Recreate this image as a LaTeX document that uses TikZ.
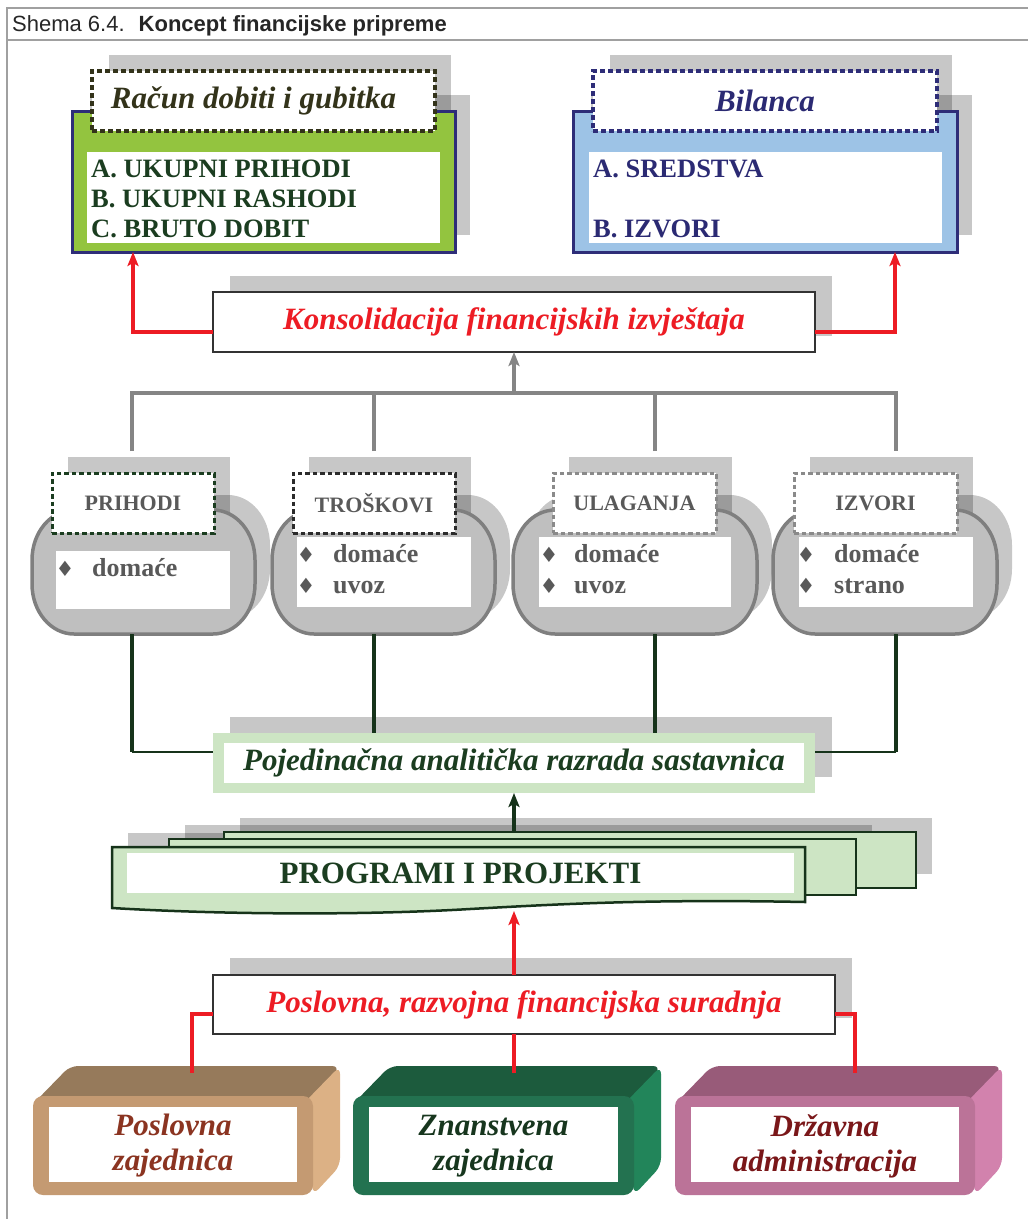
\documentclass[tikz,border=0pt]{standalone}
\usepackage{fontspec}
\setmainfont{Liberation Serif}
\newfontfamily\hdrfont{Liberation Sans}
\newfontfamily\symfont{DejaVu Sans}
\usetikzlibrary{arrows.meta,calc}
\definecolor{frameg}{HTML}{A0A0A0}
\definecolor{navyb}{HTML}{2E2D78}
\definecolor{navyt}{HTML}{2B2A73}
\definecolor{rdgfill}{HTML}{93C43F}
\definecolor{bilfill}{HTML}{9DC3E6}
\definecolor{olivet}{HTML}{33331A}
\definecolor{dgreent}{HTML}{1B3D20}
\definecolor{redc}{HTML}{ED1C24}
\definecolor{treeg}{HTML}{858585}
\definecolor{capfill}{HTML}{BFBFBF}
\definecolor{capdraw}{HTML}{7F7F7F}
\definecolor{grtxt}{HTML}{595959}
\definecolor{dglinec}{HTML}{16331A}
\definecolor{lgreen}{HTML}{CDE5C4}
\definecolor{darkgr}{HTML}{2B2B2B}
\definecolor{midgr}{HTML}{8A8A8A}
\definecolor{tanF}{HTML}{C49A72}\definecolor{tanT}{HTML}{967A5B}\definecolor{tanR}{HTML}{DCB185}\definecolor{tanX}{HTML}{8B3421}
\definecolor{grnF}{HTML}{237250}\definecolor{grnT}{HTML}{1C5B3D}\definecolor{grnR}{HTML}{22855A}\definecolor{grnX}{HTML}{17361E}
\definecolor{pnkF}{HTML}{BB7398}\definecolor{pnkT}{HTML}{985B79}\definecolor{pnkR}{HTML}{D282AD}\definecolor{pnkX}{HTML}{7A1719}
\newcommand\capsule[5]{\path[#5] ({#1+42},#3) -- ({#2-42},#3) .. controls ({#2-18.8},#3) and (#2,{#3+22.4}) .. (#2,{#3+50}) -- (#2,{#4-50}) .. controls (#2,{#4-22.4}) and ({#2-18.8},#4) .. ({#2-42},#4) -- ({#1+42},#4) .. controls ({#1+18.8},#4) and (#1,{#4-22.4}) .. (#1,{#4-50}) -- (#1,{#3+50}) .. controls (#1,{#3+22.4}) and ({#1+18.8},#3) .. ({#1+42},#3) -- cycle;}
\newcommand\tribox[9]{%
 \fill[#4, rounded corners=8pt] (#1,1104) -- ({#1+37},1066) -- ({#2+27},1066) -- (#2,1104) -- cycle;
 \fill[#5, rounded corners=8pt] ({#2-10},1104) -- ({#2+27},1066) -- ({#2+27},1166) -- (#2,1195) -- cycle;
 \node[plainbox, fill=#3, rounded corners=10pt, minimum width={#2-#1}, minimum height=99pt] (#6) at (#1,1096) {};
 \node[plainbox, fill=white, minimum width={#2-#1-32}, minimum height=75pt] (#6in) at ({#1+16},1107) {};
 \node[bigit, text=#7, align=center, inner sep=0pt] (#6txt) at ({(#1+#2)/2},1146) {#8\\#9};
}
\begin{document}
\begin{tikzpicture}[x=1pt,y=-1pt,
  shadowbox/.style={fill=black,fill opacity=0.22},
  plainbox/.style={rectangle, inner sep=0pt, outer sep=0pt, anchor=north west},
  dashbox/.style={plainbox, fill=white, line width=3.5pt, dash pattern=on 5pt off 3pt},
  gdash/.style={plainbox, fill=white, line width=3pt, dash pattern=on 4.5pt off 3pt, minimum height=60pt,
     font=\fontsize{22}{26}\selectfont\bfseries, text=grtxt},
  bigit/.style={font=\fontsize{31}{35}\selectfont\bfseries\itshape},
  listtxt/.style={font=\fontsize{26.5}{30}\selectfont\bfseries, anchor=base west, inner sep=0pt},
  bul/.style={font=\symfont\fontsize{21}{24}\selectfont, text=grtxt, anchor=base, inner sep=0pt},
  itemtxt/.style={font=\fontsize{26}{30}\selectfont\bfseries, text=grtxt, anchor=base west, inner sep=0pt},
  redline/.style={draw=redc, line width=4.5pt},
  redarrow/.style={redline, -{Stealth[length=14pt,width=11pt,inset=3pt]}},
  treeline/.style={draw=treeg, line width=4.5pt},
  dgv/.style={draw=dglinec, line width=3.5pt},
  dgh/.style={draw=dglinec, line width=1.6pt},
  capsty/.style={draw=capdraw, fill=capfill, line width=3.5pt},
  pagesty/.style={draw=dglinec, line width=2.5pt, fill=lgreen}
]
\useasboundingbox (0,0) rectangle (1028,1219);
% frame and title
\draw[frameg, line width=2pt] (7,1219) -- (7,8) -- (1028,8);
\draw[frameg, line width=2pt] (7,40) -- (1028,40);
\node[anchor=base west, inner sep=0pt, font=\hdrfont\fontsize{22}{26}\selectfont, text=black!85] (title) at (12,31) {Shema 6.4.\hspace{14pt}\textbf{Koncept financijske pripreme}};

% ---- Racun dobiti i gubitka
\fill[shadowbox] (109,55) rectangle (451,115);
\fill[shadowbox] (90,95) rectangle (470,235);
\node[plainbox, draw=navyb, line width=3pt, fill=rdgfill, minimum width=383pt, minimum height=141pt] (rdg) at (72,111) {};
\node[plainbox, fill=white, minimum width=353pt, minimum height=91pt] (rdgin) at (87,152) {};
\node[dashbox, draw=olivet, minimum width=343pt, minimum height=60pt, bigit, text=olivet] (rdgh) at (92,71) {Račun dobiti i gubitka\hspace*{20pt}};
\node[listtxt, text=dgreent] (rdgA) at (91,177) {A. UKUPNI PRIHODI};
\node[listtxt, text=dgreent] (rdgB) at (91,207) {B. UKUPNI RASHODI};
\node[listtxt, text=dgreent] (rdgC) at (91,237) {C. BRUTO DOBIT};

% ---- Bilanca
\fill[shadowbox] (610,55) rectangle (952,115);
\fill[shadowbox] (591,95) rectangle (972,235);
\node[plainbox, draw=navyb, line width=3pt, fill=bilfill, minimum width=384pt, minimum height=141pt] (bil) at (573,111) {};
\node[plainbox, fill=white, minimum width=353pt, minimum height=91pt] (bilin) at (589,152) {};
\node[dashbox, draw=navyb, minimum width=344pt, minimum height=60pt, bigit, text=navyt] (bilh) at (593,71) {Bilanca};
\node[listtxt, text=navyt] (bilA) at (593,177) {A. SREDSTVA};
\node[listtxt, text=navyt] (bilB) at (593,237) {B. IZVORI};

% ---- Konsolidacija
\fill[shadowbox] (230,276) rectangle (832,336);
\node[plainbox, draw=black!80, line width=1.5pt, fill=white, minimum width=602pt, minimum height=60pt, bigit, text=redc] (kons) at (213,292) {Konsolidacija financijskih izvještaja};
\coordinate (kl) at (213,332); \coordinate (rdgIn) at (133,252);
\coordinate (kr) at (815,332); \coordinate (bilIn) at (895,252);
\draw[redarrow] (kl) -| (rdgIn);
\draw[redarrow] (kr) -| (bilIn);

% ---- gray tree
\coordinate (t1) at (132,451); \coordinate (t2) at (374,451);
\coordinate (t3) at (655,451); \coordinate (t4) at (896,451);
\coordinate (tj) at (514,393);
\draw[treeline] (t1) |- (tj) -| (t4);
\draw[treeline] (t2) -- (t2 |- tj);
\draw[treeline] (t3) -- (t3 |- tj);
\draw[treeline, -{Stealth[length=14pt,width=11pt,inset=3pt]}] (tj) -- (kons.south);

% ---- group 1
\fill[shadowbox] (68,457) rectangle (230,517);
\capsule{47}{270}{495}{619}{shadowbox}
\capsule{32}{255}{510}{634}{capsty}
\node[plainbox, fill=white, minimum width=174pt, minimum height=58pt] (g1in) at (56,551) {};
\node[gdash, draw=dgreent, minimum width=162pt] (g1) at (52,473) {PRIHODI};
\node[bul] (g1b1) at (65,576) {♦};
\node[itemtxt] (g1i1) at (92,576) {domaće};

% ---- group 2
\fill[shadowbox] (309,457) rectangle (471,517);
\capsule{287}{510}{495}{619}{shadowbox}
\capsule{272}{495}{510}{634}{capsty}
\node[plainbox, fill=white, minimum width=174pt, minimum height=70pt] (g2in) at (297,537) {};
\node[gdash, draw=darkgr, minimum width=162pt] (g2) at (293,473) {TROŠKOVI};
\node[bul] (g2b1) at (306,562) {♦};
\node[itemtxt] (g2i1) at (333,562) {domaće};
\node[bul] (g2b2) at (306,593) {♦};
\node[itemtxt] (g2i2) at (333,593) {uvoz};

% ---- group 3
\fill[shadowbox] (569,457) rectangle (732,517);
\capsule{528}{772}{495}{619}{shadowbox}
\capsule{513}{757}{510}{634}{capsty}
\node[plainbox, fill=white, minimum width=192pt, minimum height=70pt] (g3in) at (539,537) {};
\node[gdash, draw=midgr, minimum width=163pt] (g3) at (553,473) {ULAGANJA};
\node[bul] (g3b1) at (549,562) {♦};
\node[itemtxt] (g3i1) at (574,562) {domaće};
\node[bul] (g3b2) at (549,593) {♦};
\node[itemtxt] (g3i2) at (574,593) {uvoz};

% ---- group 4
\fill[shadowbox] (810,457) rectangle (973,517);
\capsule{788}{1012}{495}{619}{shadowbox}
\capsule{773}{997}{510}{634}{capsty}
\node[plainbox, fill=white, minimum width=174pt, minimum height=70pt] (g4in) at (799,537) {};
\node[gdash, draw=midgr, minimum width=163pt] (g4) at (794,473) {IZVORI};
\node[bul] (g4b1) at (806,562) {♦};
\node[itemtxt] (g4i1) at (834,562) {domaće};
\node[bul] (g4b2) at (806,593) {♦};
\node[itemtxt] (g4i2) at (834,593) {strano};

% ---- Pojedinacna
\fill[shadowbox] (230,717) rectangle (832,777);
\node[plainbox, fill=lgreen, minimum width=602pt, minimum height=60pt] (poj) at (213,733) {};
\node[plainbox, fill=white, minimum width=580pt, minimum height=40pt, bigit, text=dgreent] (pojin) at (224,743) {Pojedinačna analitička razrada sastavnica};
\coordinate (b1) at (132,634); \coordinate (b2) at (374,634);
\coordinate (b3) at (655,634); \coordinate (b4) at (896,634);
\coordinate (pl) at (213,752); \coordinate (pr) at (815,752);
\draw[dgv] (b1) -- (b1 |- pl);
\draw[dgh] (b1 |- pl) -- (pl);
\draw[dgv] (b4) -- (b4 |- pr);
\draw[dgh] (b4 |- pr) -- (pr);
\draw[dgv] (b2) -- (b2 |- poj.north);
\draw[dgv] (b3) -- (b3 |- poj.north);

% ---- Programi i projekti
\fill[shadowbox] (240,818) rectangle (932,874);
\fill[shadowbox] (185,825) rectangle (872,881);
\fill[shadowbox] (128,833) rectangle (821,895);
\node[plainbox, pagesty, minimum width=692pt, minimum height=56pt] (pg3) at (224,832) {};
\node[plainbox, pagesty, minimum width=687pt, minimum height=56pt] (pg2) at (169,839) {};
\path[pagesty] (112,847) -- (805,847) -- (805,902) .. controls (650,899) and (560,904) .. (470,909) .. controls (370,915) and (230,915) .. (112,908) -- cycle;
\node[plainbox, fill=white, minimum width=667pt, minimum height=40pt, font=\fontsize{31}{35}\selectfont\bfseries, text=dgreent] (pg1) at (127,853) {PROGRAMI I PROJEKTI};
\coordinate (progTop) at (514,832);
\draw[dgv, -{Stealth[length=14pt,width=11pt,inset=3pt]}] (progTop) -- (poj.south);

% ---- Poslovna, razvojna
\fill[shadowbox] (230,958) rectangle (852,1018);
\node[plainbox, draw=black!80, line width=1.5pt, fill=white, minimum width=622pt, minimum height=59pt, bigit, text=redc] (pos) at (213,975) {Poslovna, razvojna financijska suradnja};
\coordinate (posTop) at (514,975); \coordinate (progBot) at (514,911);
\draw[redarrow] (posTop) -- (progBot);

% ---- bottom 3D boxes
\tribox{33}{313}{tanF}{tanT}{tanR}{pz}{tanX}{Poslovna}{zajednica}
\tribox{353}{634}{grnF}{grnT}{grnR}{zz}{grnX}{Znanstvena}{zajednica}
\tribox{675}{975}{pnkF}{pnkT}{pnkR}{da}{pnkX}{Državna}{administracija}

\coordinate (psl) at (213,1014); \coordinate (pz1) at (192,1073);
\coordinate (psr) at (835,1014); \coordinate (pz3) at (855,1073);
\coordinate (psm) at (514,1034); \coordinate (pz2) at (514,1073);
\draw[redline] (psl) -| (pz1);
\draw[redline] (psr) -| (pz3);
\draw[redline] (psm) -- (pz2);
\end{tikzpicture}
\end{document}
